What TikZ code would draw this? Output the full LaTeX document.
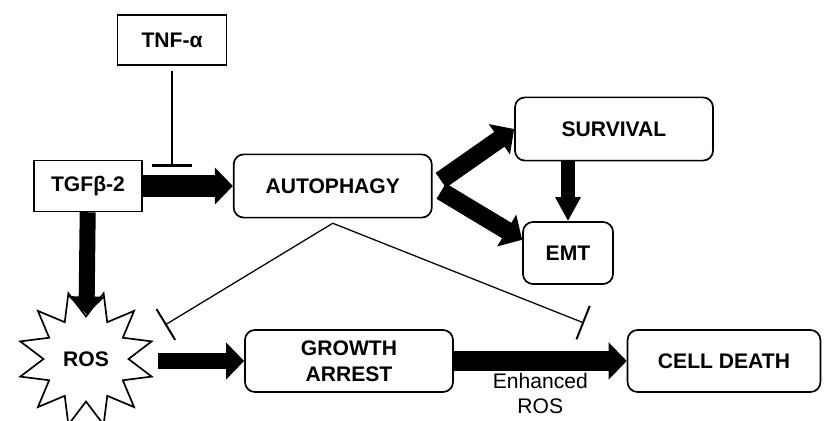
\documentclass[tikz,border=0pt]{standalone}
\usepackage{fontspec}
\setmainfont{Liberation Sans}
\usetikzlibrary{arrows.meta, positioning, shapes.geometric}

\begin{document}
\begin{tikzpicture}[
            x = 0.025cm, y = 0.025cm, % one unit is one pixel of the sketch
            > = {Triangle[length=0.45cm, width=0.9cm]}, % arrow head style
            fat/.style = {->, line width=0.45cm}, % thick arrow
            block/.style = {-{Bar[width=0.9cm, line width=1.4pt]}, line width=0.9pt}, % inhibition
            font = \fontsize{15}{18.5}\selectfont\bfseries
        ]

        \tikzstyle{box}=[
            draw = black,
            line width = 1.2pt,
            fill = white,
            align = center,
            inner sep = 2pt
        ]
        \tikzstyle{rbox}=[box, rounded corners = 0.25cm]

        \useasboundingbox (0,0) rectangle (825,421);

        \node[box, minimum width=2.72cm, minimum height=1.25cm] (tnf) at (172,381) {TNF-α};
        \node[box, minimum width=2.7cm, minimum height=1.27cm] (tgf) at (88,235) {TGFβ-2};
        \node[rbox, minimum width=4.95cm, minimum height=1.58cm] (auto) [right=2.25cm of tgf] {AUTOPHAGY};
        \node[rbox, minimum width=4.95cm, minimum height=1.58cm] (surv) at (614,292) {SURVIVAL};
        \node[rbox, minimum width=2.25cm, minimum height=1.55cm] (emt) at (568,168) {EMT};
        \node[star, star points=12, star point ratio=1.6, minimum size=3.4cm, shape border rotate=15,
              draw, line width=1.2pt, inner sep=0pt] (ros) at (86,62) {ROS};
        \node[rbox, minimum width=5.2cm, minimum height=1.55cm] (growth) at (349,60) {GROWTH\\ARREST};
        \node[rbox, minimum width=4.82cm, minimum height=1.55cm] (death) at (724,60) {CELL DEATH};

        \coordinate (apex) at ([yshift=-0.12cm]auto.south);
        \coordinate (tnfend) at (tnf.south |- 0,254);
        \coordinate (rosend) at (165,96);
        \coordinate (deathend) at (584,98);
        \coordinate (rosout) at (158,60);

        \draw[fat, line width=0.4cm] (tgf) -- (ros);
        \draw[fat, line width=0.4cm] (rosout) -- (growth);
        \draw[fat, line width=0.5cm] (growth) -- node[below=0.02cm, inner sep=1pt, align=center,
              font=\fontsize{15}{18}\selectfont\mdseries] {Enhanced\\ROS} (death);
        \draw[fat, line width=0.55cm] (tgf) -- (auto);
        \draw[fat, shorten <=0.25cm] (auto.east) -- (surv.west);
        \draw[fat, shorten <=0.25cm] (auto.east) -- ([yshift=0.33cm]emt.west);
        \draw[line width=0.33cm, -{Triangle[length=0.6cm, width=0.6cm]}] (emt |- surv.south) -- (emt);

        \draw[block, shorten <=0.12cm, -{Bar[width=1.02cm, line width=2pt]}] (tnf) -- (tnfend);
        \draw[block] (apex) -- (rosend);
        \draw[block] (apex) -- (deathend);

  \end{tikzpicture}
\end{document}
